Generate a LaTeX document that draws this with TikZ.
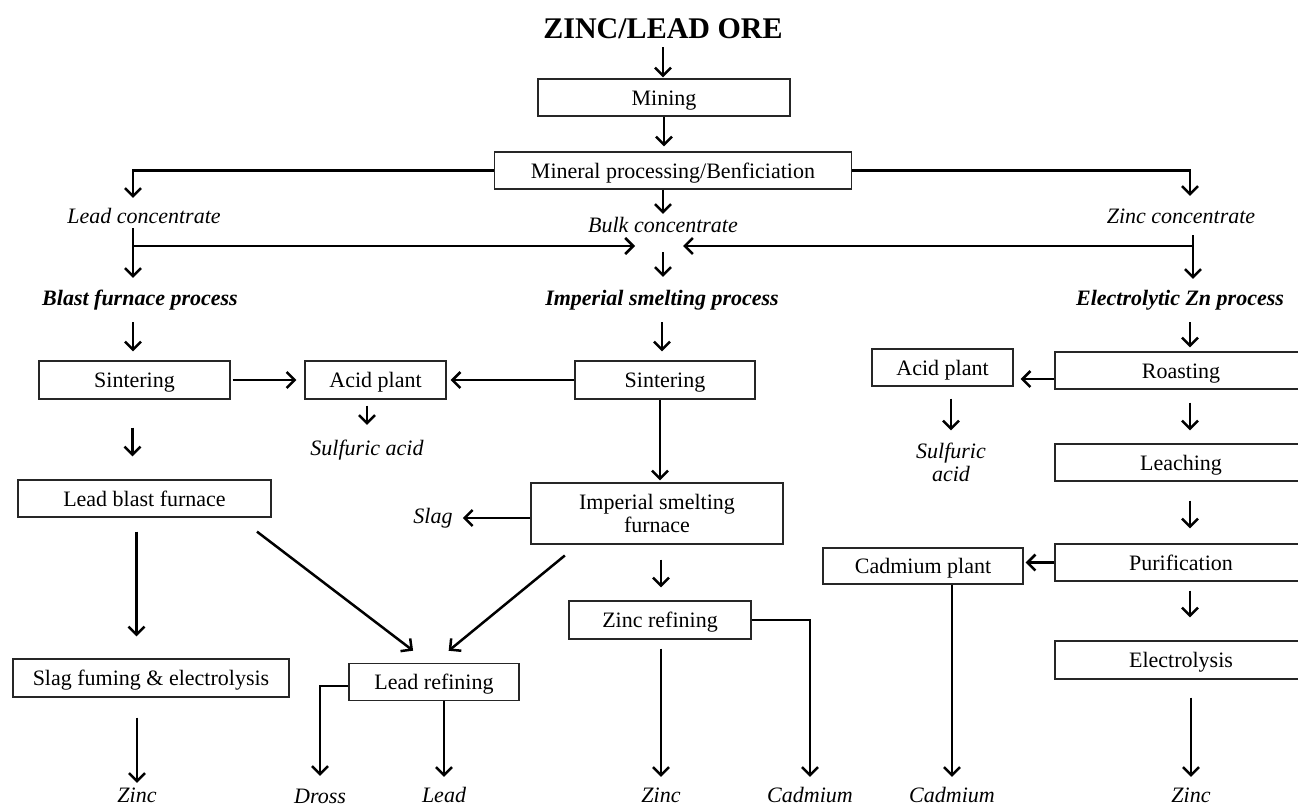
\documentclass[tikz,border=0pt]{standalone}
\usepackage{fontspec}
\setmainfont{Liberation Serif}
\usetikzlibrary{arrows.meta}

\tikzset{
  frame/.style={draw=black!85, line width=1.4pt, inner sep=0pt, minimum height=37pt,
    font=\fontsize{22}{23}\selectfont},
  box/.style={frame, text height=18pt, text depth=3pt},
  twobox/.style={frame, align=center},
  lbl/.style={inner sep=0pt, text height=15pt, text depth=5pt,
    font=\fontsize{22}{23}\selectfont\itshape},
  proc/.style={lbl, font=\fontsize{22}{23}\selectfont\bfseries\itshape},
  arr/.style={line width=2.5pt, -{Straight Barb[length=8pt,width=16pt]}},
}

\begin{document}
\begin{tikzpicture}[x=1pt, y=-1pt]
\useasboundingbox[fill=white] (0,0) rectangle (1298,807);

% top of the chart
\node[inner sep=0pt, text height=20pt, text depth=0pt,
  font=\fontsize{30}{30}\selectfont\bfseries] (ore) at (663,28) {ZINC/LEAD ORE};
\node[box, minimum width=252pt] (mining) at (664,97.5) {Mining};
\node[box, minimum width=357pt] (mineral) at (673,170.5) {Mineral processing/Benficiation};
\node[lbl] (leadconc) at (144,218) {Lead concentrate};
\node[lbl] (bulk) at (663,227) {Bulk concentrate};
\node[lbl] (zincconc) at (1181,218) {Zinc concentrate};
\node[proc] (blastp) at (140,300) {Blast furnace process};
\node[proc] (imperialp) at (662,300) {Imperial smelting process};
\node[proc] (electrop) at (1180,300) {Electrolytic Zn process};

% blast furnace route
\node[box, minimum width=191pt, minimum height=38pt] (sinterL) at (134.5,380) {Sintering};
\node[box, minimum width=141pt, minimum height=38pt] (acidL) at (375.5,380) {Acid plant};
\node[lbl] (sulfL) at (367,450) {Sulfuric acid};
\node[box, minimum width=253pt] (lbf) at (144.5,498.5) {Lead blast furnace};
\node[box, minimum width=276pt, minimum height=38pt] (slagfum) at (151,678) {Slag fuming \& electrolysis};
\node[lbl] (zincL) at (137,797) {Zinc};
\node[box, minimum width=170pt] (leadref) at (434,682) {Lead refining};
\node[lbl] (dross) at (320,798) {Dross};
\node[lbl] (lead) at (444,797) {Lead};

% imperial smelting route
\node[box, minimum width=180pt, minimum height=38pt] (sinterM) at (665,380) {Sintering};
\node[twobox, minimum width=252pt, minimum height=61pt] (isf) at (657,513.5) {Imperial smelting\\furnace};
\node[lbl] (slag) at (433,518) {Slag};
\node[box, minimum width=182pt, minimum height=38pt] (zincref) at (660,620) {Zinc refining};
\node[lbl] (zincM) at (661,797) {Zinc};
\node[lbl] (cadM) at (810,797) {Cadmium};

% electrolytic route
\node[box, minimum width=141pt] (acidR) at (942.5,367.5) {Acid plant};
\node[inner sep=0pt, align=center, font=\fontsize{22}{23}\selectfont\itshape] (sulfR) at (951,462) {Sulfuric\\acid};
\node[box, minimum width=252pt] (roast) at (1181,370.5) {Roasting};
\node[box, minimum width=252pt] (leach) at (1181,462.5) {Leaching};
\node[box, minimum width=252pt] (purif) at (1181,562.5) {Purification};
\node[box, minimum width=200pt, minimum height=36pt] (cadplant) at (923,566) {Cadmium plant};
\node[box, minimum width=252pt, minimum height=38pt] (electro) at (1181,660) {Electrolysis};
\node[lbl] (cadR) at (952,797) {Cadmium};
\node[lbl] (zincR) at (1191,797) {Zinc};

\coordinate (leadjoin) at (133,246);
\coordinate (zincjoin) at (1193,246);
\coordinate (bulkjoin) at (659,246);

% ore to concentrates
\draw[arr, shorten <=9pt, shorten >=1pt] (ore.south) -- (ore.south |- mining.north);
\draw[arr, shorten >=5pt] (mining.south) -- (mining.south |- mineral.north);
\draw[arr, shorten >=10pt] (mineral.west) -| ([xshift=-11pt]leadconc.north);
\draw[arr, shorten >=12pt] (mineral.east) -| ([xshift=9pt]zincconc.north);
\draw[arr, shorten >=3pt] (bulk.north |- mineral.south) -- (bulk.north);
\draw[arr, shorten >=12pt] ([xshift=-11pt]leadconc.south) -- ([xshift=-7pt]blastp.north);
\draw[arr, shorten <=15pt, shorten >=13pt] (bulk.south) -- (bulk.south |- imperialp.north);
\draw[arr, shorten <=7pt, shorten >=11pt] ([xshift=12pt]zincconc.south) -- ([xshift=13pt]electrop.north);
\draw[arr, shorten >=24pt] (leadjoin) -- (bulkjoin);
\draw[arr, shorten >=24pt] (zincjoin) -- (bulkjoin);

% process heads
\draw[arr, shorten <=12pt, shorten >=9pt] ([xshift=-7pt]blastp.south) -- ([xshift=-7pt]blastp.south |- sinterL.north);
\draw[arr, shorten <=12pt, shorten >=9pt] (imperialp.south) -- (imperialp.south |- sinterM.north);
\draw[arr, shorten <=12pt, shorten >=4pt] ([xshift=10pt]electrop.south) -- ([xshift=9pt]roast.north);

% blast furnace route
\draw[arr, shorten <=2pt, shorten >=8pt] (sinterL.east) -- (acidL.west);
\draw[arr, shorten <=6pt, shorten >=15pt] (sulfL.north |- acidL.south) -- (sulfL.north);
\draw[arr, shorten <=28pt, shorten >=23pt] ([xshift=-2pt]sinterL.south) -- ([xshift=-2pt]sinterL.south |- lbf.north);
\draw[arr, shorten <=14pt, shorten >=22pt] ([xshift=-8pt]lbf.south) -- ([xshift=-8pt]lbf.south |- slagfum.north);
\draw[arr, shorten <=20pt, shorten >=4pt] (zincL.north |- slagfum.south) -- (zincL.north);
\draw[arr, shorten <=23pt, shorten >=20pt] ([xshift=-33pt]lbf.south east) -- ([xshift=-5pt]leadref.north);
\draw[arr, shorten >=12pt] ([yshift=-4pt]leadref.west) -| (dross.north);
\draw[arr, shorten >=10pt] (lead.north |- leadref.south) -- (lead.north);

% imperial smelting route
\draw[arr, shorten >=4pt] (sinterM.west) -- (acidL.east);
\draw[arr, shorten >=2pt] ([xshift=-5pt]sinterM.south) -- ([xshift=-5pt]sinterM.south |- isf.north);
\draw[arr, shorten >=10pt] (slag.east -| isf.west) -- (slag.east);
\draw[arr, shorten <=15pt, shorten >=13pt] ([xshift=4pt]isf.south) -- ([xshift=4pt]isf.south |- zincref.north);
\draw[arr, shorten <=17pt, shorten >=19pt] ([xshift=-79pt]isf.south) -- (leadref.north);
\draw[arr, shorten <=9pt, shorten >=10pt] (zincM.north |- zincref.south) -- (zincM.north);
\draw[arr, shorten >=10pt] (zincref.east) -| (cadM.north);

% electrolytic route
\draw[arr, shorten >=7pt] ([yshift=-8.5pt]roast.west) -- ([yshift=-8.5pt]roast.west -| acidR.east);
\draw[arr, shorten <=12pt, shorten >=12pt] (sulfR.north |- acidR.south) -- (sulfR.north);
\draw[arr, shorten <=13pt, shorten >=13pt] ([xshift=9pt]roast.south) -- ([xshift=9pt]leach.north);
\draw[arr, shorten <=19pt, shorten >=15pt] ([xshift=9pt]leach.south) -- ([xshift=9pt]purif.north);
\draw[arr, shorten >=2pt] (purif.west) -- (purif.west -| cadplant.east);
\draw[arr, shorten <=9pt, shorten >=23pt] ([xshift=9pt]purif.south) -- ([xshift=9pt]electro.north);
\draw[arr, shorten >=10pt] (cadR.north |- cadplant.south) -- (cadR.north);
\draw[arr, shorten <=18pt, shorten >=10pt] (zincR.north |- electro.south) -- (zincR.north);
\end{tikzpicture}
\end{document}
